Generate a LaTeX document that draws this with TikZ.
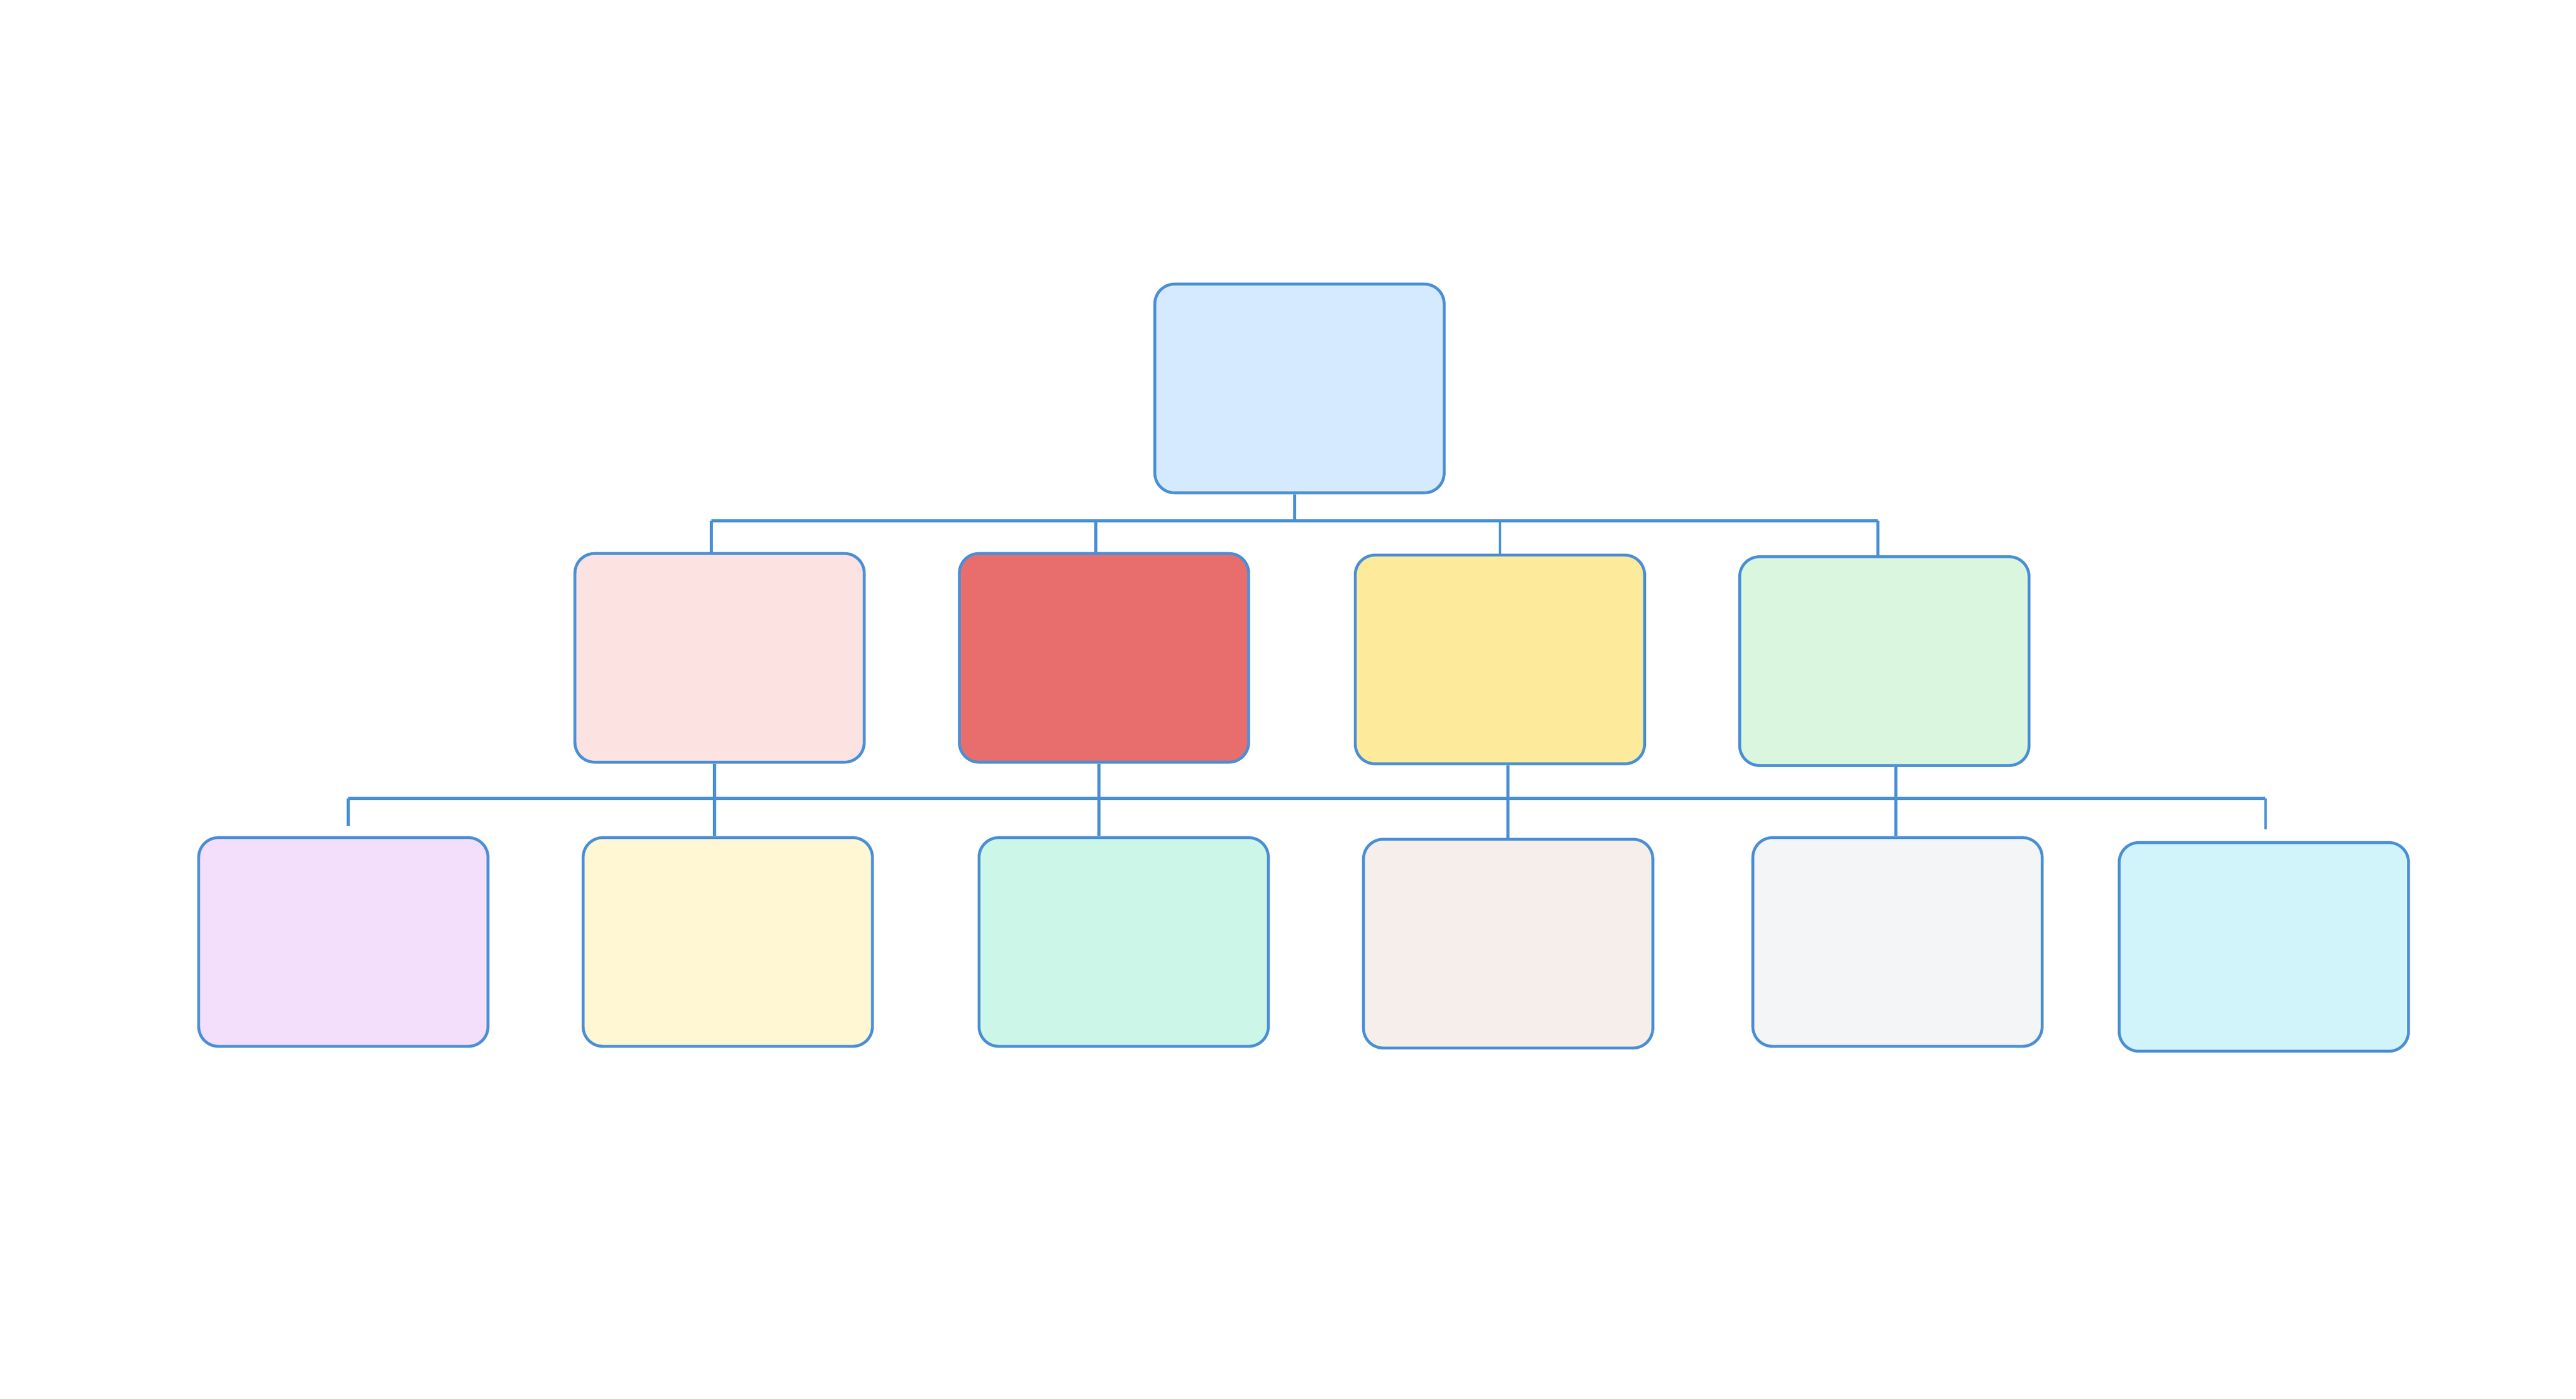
\documentclass[tikz,border=0pt]{standalone}
\begin{document}
\begin{tikzpicture}[x=0.01cm,y=-0.01cm,
  bx/.style={draw=linec,line width=0.5pt,rounded corners=0.12cm,minimum width=1.76cm,minimum height=1.27cm,inner sep=0pt},
  ln/.style={draw=linec,line width=0.5pt}]
\definecolor{linec}{HTML}{4A8FD6}
\useasboundingbox (0,0) rectangle (1568,851.5);
\node[bx,fill={rgb,255:red,214;green,234;blue,255}] (top) at (791,236.5) {};
\node[bx,fill={rgb,255:red,253;green,226;blue,226}] (a) at (438,400.5) {};
\node[bx,fill={rgb,255:red,232;green,110;blue,110}] (b) at (672,400.5) {};
\node[bx,fill={rgb,255:red,253;green,235;blue,155}] (c) at (913,401.5) {};
\node[bx,fill={rgb,255:red,218;green,246;blue,222}] (d) at (1147,402.5) {};
\node[bx,fill={rgb,255:red,243;green,222;blue,252}] (e) at (209,573.5) {};
\node[bx,fill={rgb,255:red,255;green,246;blue,212}] (f) at (443,573.5) {};
\node[bx,fill={rgb,255:red,204;green,246;blue,232}] (g) at (684,573.5) {};
\node[bx,fill={rgb,255:red,245;green,238;blue,234}] (h) at (918,574.5) {};
\node[bx,fill={rgb,255:red,243;green,245;blue,247}] (i) at (1155,573.5) {};
\node[bx,fill={rgb,255:red,208;green,244;blue,249}] (j) at (1378,576.5) {};
% level 1
\coordinate (t1) at (788,317);
\draw[ln] (top.south -| t1) -- (t1);
\draw[ln] (433,317) -- (1143,317);
\draw[ln] (433,317) -- (a.north -| 433,0);
\draw[ln] (667,317) -- (b.north -| 667,0);
\draw[ln] (913,317) -- (c.north);
\draw[ln] (1143,317) -- (d.north -| 1143,0);
% level 2
\draw[ln] (212,486) -- (1379,486);
\draw[ln] (212,486) -- (212,503);
\draw[ln] (1379,486) -- (1379,505);
\draw[ln] (a.south -| 435,0) -- (f.north -| 435,0);
\draw[ln] (b.south -| 669,0) -- (g.north -| 669,0);
\draw[ln] (c.south -| 918,0) -- (h.north -| 918,0);
\draw[ln] (d.south -| 1154,0) -- (i.north -| 1154,0);
\end{tikzpicture}
\end{document}
